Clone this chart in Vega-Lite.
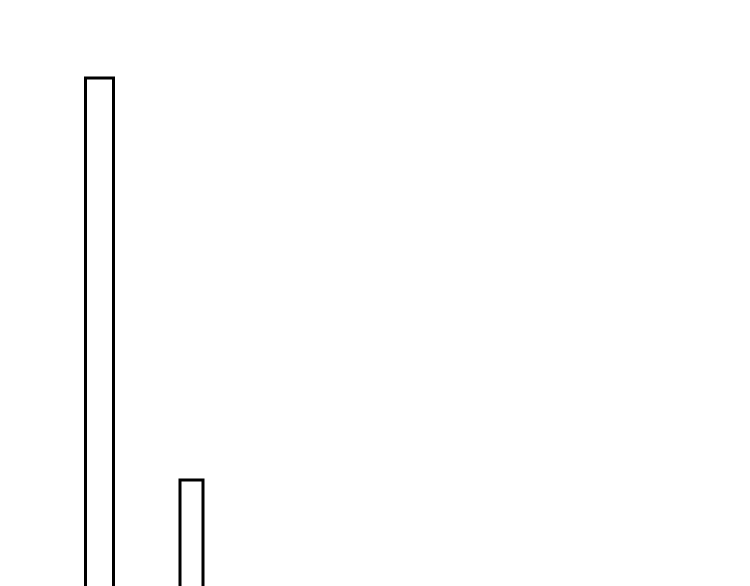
{
  "$schema": "https://vega.github.io/schema/vega-lite/v6.json",
  "autosize": {"type": "fit", "contains": "padding"},
  "width": 750,
  "height": 586,
  "padding": 0,
  "background": "white",
  "config": {"view": {"stroke": null}},
  "data": {
    "values": [
      {"start": 85.5, "end": 113.5, "value": 508},
      {"start": 180, "end": 203, "value": 106}
    ]
  },
  "mark": {"type": "rect", "fill": "white", "stroke": "black", "strokeWidth": 3, "clip": true},
  "encoding": {
    "x": {"field": "start", "type": "quantitative", "scale": {"domain": [0, 750], "nice": false, "zero": false}, "axis": null},
    "x2": {"field": "end"},
    "y": {"field": "value", "type": "quantitative", "scale": {"domain": [0, 586], "nice": false}, "axis": null},
    "y2": {"datum": -20}
  }
}
